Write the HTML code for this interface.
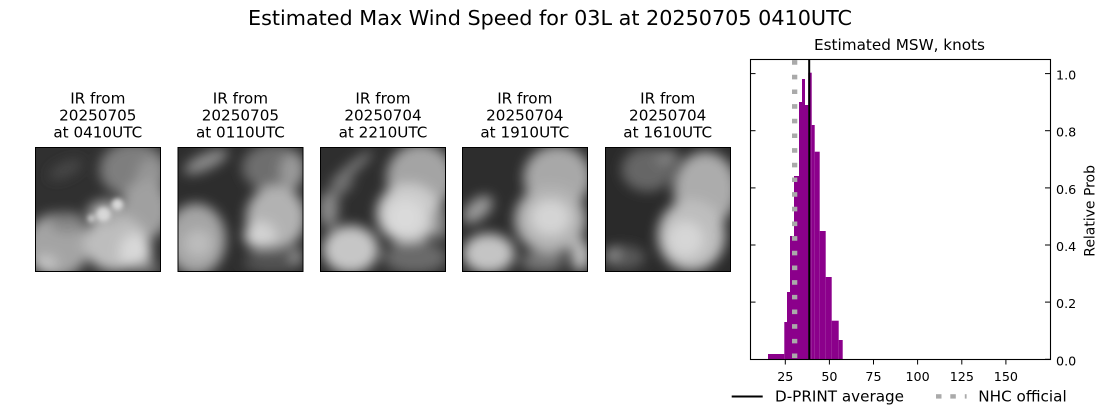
<!DOCTYPE html>
<html>
<head>
<meta charset="utf-8">
<style>
  html,body{margin:0;padding:0;background:#fff;}
  body{width:1100px;height:409px;overflow:hidden;}
  svg{display:block;}
  text{font-family:"DejaVu Sans","Liberation Sans",sans-serif;fill:#000;}
</style>
</head>
<body>
<svg width="1100" height="409" viewBox="0 0 1100 409" xmlns="http://www.w3.org/2000/svg">
  <defs>
    <filter id="bl" x="-30%" y="-30%" width="160%" height="160%"><feGaussianBlur stdDeviation="6"/></filter>
    <filter id="bs" x="-30%" y="-30%" width="160%" height="160%"><feGaussianBlur stdDeviation="2.5"/></filter>
    <clipPath id="cp"><rect x="0" y="0" width="125" height="124"/></clipPath>
  </defs>

  <!-- Suptitle -->
  <text x="550" y="25" font-size="20.5" text-anchor="middle" textLength="604" lengthAdjust="spacingAndGlyphs">Estimated Max Wind Speed for 03L at 20250705 0410UTC</text>

  <!-- Panel titles -->
  <g font-size="15.2" text-anchor="middle">
    <text x="97.8" y="103.3">IR from</text><text x="97.8" y="120.3">20250705</text><text x="97.8" y="137.3">at 0410UTC</text>
    <text x="240.4" y="103.3">IR from</text><text x="240.4" y="120.3">20250705</text><text x="240.4" y="137.3">at 0110UTC</text>
    <text x="383" y="103.3">IR from</text><text x="383" y="120.3">20250704</text><text x="383" y="137.3">at 2210UTC</text>
    <text x="524.8" y="103.3">IR from</text><text x="524.8" y="120.3">20250704</text><text x="524.8" y="137.3">at 1910UTC</text>
    <text x="667.7" y="103.3">IR from</text><text x="667.7" y="120.3">20250704</text><text x="667.7" y="137.3">at 1610UTC</text>
  </g>

  <!-- Panel 1 -->
  <g transform="translate(35.5,147.5)">
    <g clip-path="url(#cp)">
      <rect width="125" height="124" fill="#303030"/>
      <g filter="url(#bl)">
        <ellipse cx="30" cy="22" rx="18" ry="7" fill="#4a4a4a" transform="rotate(-25 30 22)"/>
        <ellipse cx="98" cy="22" rx="34" ry="28" fill="#7e7e7e"/>
        <ellipse cx="115" cy="30" rx="14" ry="20" fill="#959595"/>
        <ellipse cx="110" cy="62" rx="24" ry="30" fill="#a0a0a0"/>
        <ellipse cx="22" cy="98" rx="32" ry="32" fill="#a4a4a4"/>
        <ellipse cx="32" cy="75" rx="18" ry="10" fill="#858585"/>
        <ellipse cx="80" cy="96" rx="32" ry="28" fill="#bdbdbd"/>
        <ellipse cx="100" cy="104" rx="16" ry="18" fill="#d8d8d8"/>
        <ellipse cx="110" cy="121" rx="16" ry="6" fill="#7a7a7a"/>
        <ellipse cx="10" cy="116" rx="12" ry="8" fill="#c4c4c4"/>
        <ellipse cx="70" cy="65" rx="18" ry="12" fill="#a8a8a8"/>
      </g>
      <g filter="url(#bs)">
        <circle cx="82" cy="57" r="6" fill="#d8d8d8"/>
        <circle cx="68" cy="67" r="7" fill="#d8d8d8"/>
        <circle cx="56" cy="71" r="4" fill="#c8c8c8"/>
      </g>
    </g>
    <rect x="0" y="0" width="125" height="124" fill="none" stroke="#000" stroke-width="1"/>
  </g>

  <!-- Panel 2 -->
  <g transform="translate(178,147.5)">
    <g clip-path="url(#cp)">
      <rect width="125" height="124" fill="#2d2d2d"/>
      <g filter="url(#bl)">
        <ellipse cx="28" cy="14" rx="24" ry="8" fill="#8e8e8e" transform="rotate(-25 28 14)"/>
        <ellipse cx="96" cy="20" rx="32" ry="24" fill="#6e6e6e"/>
        <ellipse cx="114" cy="24" rx="12" ry="18" fill="#9a9a9a"/>
        <ellipse cx="18" cy="92" rx="30" ry="36" fill="#a4a4a4"/>
        <ellipse cx="20" cy="96" rx="14" ry="14" fill="#bcbcbc"/>
        <ellipse cx="98" cy="70" rx="30" ry="32" fill="#b2b2b2"/>
        <ellipse cx="82" cy="88" rx="16" ry="14" fill="#d2d2d2"/>
        <ellipse cx="95" cy="115" rx="30" ry="10" fill="#555"/>
        <ellipse cx="118" cy="108" rx="6" ry="8" fill="#999"/>
      </g>
    </g>
    <rect x="0" y="0" width="125" height="124" fill="none" stroke="#000" stroke-width="1"/>
  </g>

  <!-- Panel 3 -->
  <g transform="translate(320.5,147.5)">
    <g clip-path="url(#cp)">
      <rect width="125" height="124" fill="#2e2e2e"/>
      <g filter="url(#bl)">
        <ellipse cx="30" cy="22" rx="28" ry="5" fill="#7e7e7e" transform="rotate(-40 30 22)"/>
        <ellipse cx="18" cy="44" rx="20" ry="5" fill="#747474" transform="rotate(-40 18 44)"/>
        <ellipse cx="100" cy="30" rx="34" ry="34" fill="#a4a4a4"/>
        <ellipse cx="88" cy="66" rx="32" ry="30" fill="#cccccc"/>
        <ellipse cx="85" cy="70" rx="18" ry="18" fill="#dadada"/>
        <ellipse cx="8" cy="62" rx="10" ry="18" fill="#8a8a8a"/>
        <ellipse cx="30" cy="102" rx="28" ry="24" fill="#c6c6c6"/>
        <ellipse cx="95" cy="110" rx="32" ry="16" fill="#6a6a6a"/>
        <ellipse cx="120" cy="75" rx="8" ry="18" fill="#888"/>
      </g>
    </g>
    <rect x="0" y="0" width="125" height="124" fill="none" stroke="#000" stroke-width="1"/>
  </g>

  <!-- Panel 4 -->
  <g transform="translate(462.5,147.5)">
    <g clip-path="url(#cp)">
      <rect width="125" height="124" fill="#2d2d2d"/>
      <g filter="url(#bl)">
        <ellipse cx="15" cy="62" rx="18" ry="10" fill="#9a9a9a" transform="rotate(-40 15 62)"/>
        <ellipse cx="95" cy="30" rx="34" ry="32" fill="#a8a8a8"/>
        <ellipse cx="88" cy="72" rx="36" ry="34" fill="#b4b4b4"/>
        <ellipse cx="88" cy="70" rx="20" ry="18" fill="#d4d4d4"/>
        <ellipse cx="26" cy="106" rx="26" ry="20" fill="#c4c4c4"/>
        <ellipse cx="118" cy="108" rx="10" ry="16" fill="#bcbcbc"/>
        <ellipse cx="80" cy="114" rx="22" ry="10" fill="#777"/>
      </g>
    </g>
    <rect x="0" y="0" width="125" height="124" fill="none" stroke="#000" stroke-width="1"/>
  </g>

  <!-- Panel 5 -->
  <g transform="translate(605.5,147.5)">
    <g clip-path="url(#cp)">
      <rect width="125" height="124" fill="#2a2a2a"/>
      <g filter="url(#bl)">
        <ellipse cx="42" cy="22" rx="26" ry="22" fill="#666"/>
        <ellipse cx="62" cy="10" rx="12" ry="8" fill="#808080"/>
        <ellipse cx="100" cy="42" rx="32" ry="38" fill="#acacac"/>
        <ellipse cx="86" cy="88" rx="34" ry="36" fill="#bebebe"/>
        <ellipse cx="80" cy="92" rx="18" ry="18" fill="#d6d6d6"/>
        <ellipse cx="18" cy="110" rx="22" ry="12" fill="#585858"/>
        <ellipse cx="8" cy="106" rx="6" ry="6" fill="#999"/>
      </g>
    </g>
    <rect x="0" y="0" width="125" height="124" fill="none" stroke="#000" stroke-width="1"/>
  </g>

  <!-- Histogram axes -->
  <text x="814" y="50" font-size="15.2" textLength="171" lengthAdjust="spacingAndGlyphs">Estimated MSW, knots</text>

  <g fill="#8b008b">
    <rect x="768" y="354" width="16.3" height="5.3"/>
    <rect x="784.3" y="322" width="2.7" height="37.3"/>
    <rect x="787" y="292" width="3" height="67.3"/>
    <rect x="790" y="236" width="4" height="123.3"/>
    <rect x="794" y="176" width="5" height="183.3"/>
    <rect x="799" y="102" width="3" height="257.3"/>
    <rect x="802" y="79" width="3" height="280.3"/>
    <rect x="805" y="105" width="3.3" height="254.3"/>
    <rect x="808.3" y="72.7" width="3.4" height="286.6"/>
    <rect x="811.7" y="125" width="3" height="234.3"/>
    <rect x="814.7" y="151.7" width="5" height="207.6"/>
    <rect x="819.7" y="231" width="6" height="128.3"/>
    <rect x="825.7" y="277" width="6" height="82.3"/>
    <rect x="831.7" y="320.7" width="7" height="38.6"/>
    <rect x="838.7" y="340" width="4" height="19.3"/>
  </g>

  <!-- NHC official dotted -->
  <line x1="794.65" y1="358.1" x2="794.65" y2="59.5" stroke="#aaaaaa" stroke-width="5.3" stroke-dasharray="4.6 10.07"/>
  <!-- D-PRINT average -->
  <rect x="808.2" y="59.3" width="2" height="300" fill="#000"/>

  <!-- frame -->
  <rect x="750.5" y="59.5" width="300" height="300" fill="none" stroke="#000" stroke-width="1.1"/>

  <!-- ticks -->
  <g stroke="#000" stroke-width="1">
    <line x1="750" y1="73.6" x2="755.5" y2="73.6"/>
    <line x1="750" y1="130.7" x2="755.5" y2="130.7"/>
    <line x1="750" y1="187.9" x2="755.5" y2="187.9"/>
    <line x1="750" y1="245" x2="755.5" y2="245"/>
    <line x1="750" y1="302.1" x2="755.5" y2="302.1"/>
    <line x1="1045" y1="73.6" x2="1050.5" y2="73.6"/>
    <line x1="1045" y1="130.7" x2="1050.5" y2="130.7"/>
    <line x1="1045" y1="187.9" x2="1050.5" y2="187.9"/>
    <line x1="1045" y1="245" x2="1050.5" y2="245"/>
    <line x1="1045" y1="302.1" x2="1050.5" y2="302.1"/>
    <line x1="1045" y1="359.3" x2="1050.5" y2="359.3"/>
    <line x1="785.3" y1="359.5" x2="785.3" y2="364.5"/>
    <line x1="829.4" y1="359.5" x2="829.4" y2="364.5"/>
    <line x1="873.5" y1="359.5" x2="873.5" y2="364.5"/>
    <line x1="917.6" y1="359.5" x2="917.6" y2="364.5"/>
    <line x1="961.8" y1="359.5" x2="961.8" y2="364.5"/>
    <line x1="1005.9" y1="359.5" x2="1005.9" y2="364.5"/>
  </g>

  <!-- x tick labels -->
  <g font-size="12.7" text-anchor="middle">
    <text x="785.3" y="381">25</text>
    <text x="829.4" y="381">50</text>
    <text x="873.5" y="381">75</text>
    <text x="917.6" y="381">100</text>
    <text x="961.8" y="381">125</text>
    <text x="1005.9" y="381">150</text>
  </g>

  <!-- y tick labels right -->
  <g font-size="12.7">
    <text x="1056" y="79.6">1.0</text>
    <text x="1056" y="136.7">0.8</text>
    <text x="1056" y="193.9">0.6</text>
    <text x="1056" y="251">0.4</text>
    <text x="1056" y="308.1">0.2</text>
    <text x="1056" y="365.3">0.0</text>
  </g>

  <text transform="translate(1094.5,210.9) rotate(-90)" font-size="14" text-anchor="middle" textLength="91.7" lengthAdjust="spacingAndGlyphs">Relative Prob</text>

  <!-- Legend -->
  <line x1="731.7" y1="396.5" x2="762.7" y2="396.5" stroke="#000" stroke-width="2"/>
  <text x="775" y="401.7" font-size="15.2" textLength="129" lengthAdjust="spacingAndGlyphs">D-PRINT average</text>
  <g fill="#aaaaaa">
    <rect x="936" y="394.2" width="5.5" height="4.4"/>
    <rect x="950.3" y="394.2" width="5.5" height="4.4"/>
    <rect x="964.8" y="394.2" width="1.8" height="4.4"/>
  </g>
  <text x="978.3" y="401.7" font-size="15.2" textLength="88.4" lengthAdjust="spacingAndGlyphs">NHC official</text>
</svg>
</body>
</html>
